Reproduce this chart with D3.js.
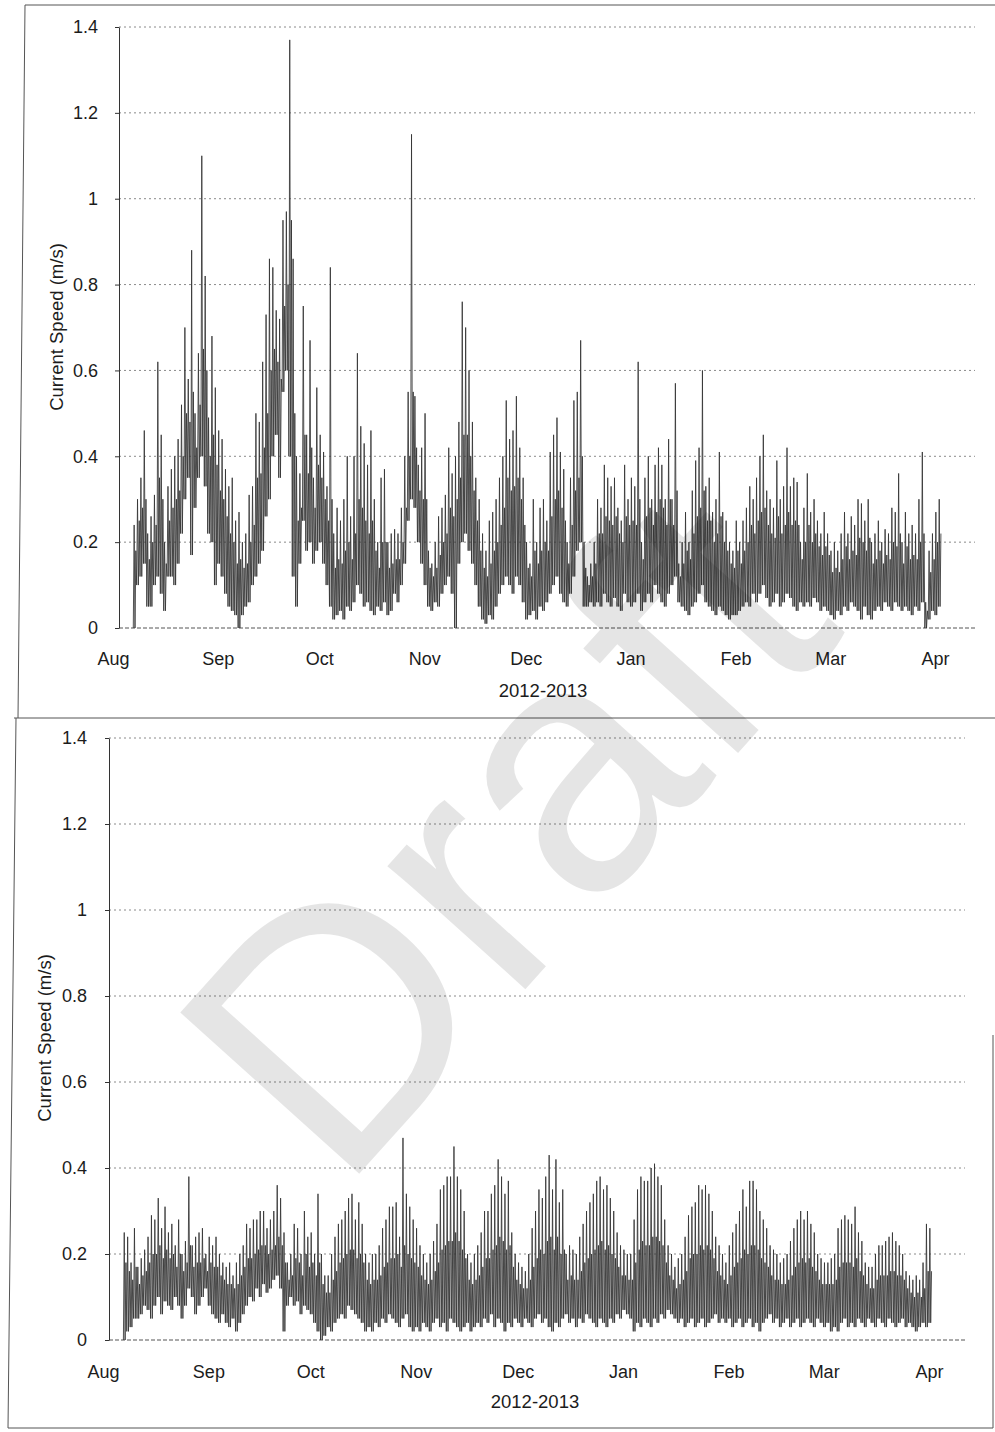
<!DOCTYPE html>
<html>
<head>
<meta charset="utf-8">
<script src="https://cdn.jsdelivr.net/npm/d3@7"></script>
<style>
  body { margin: 0; background: #fff; }
  svg text { font-family: "Liberation Sans", Arial, sans-serif; fill: #1c1c1c; }
</style>
</head>
<body>
<svg id="page" width="995" height="1432"></svg>
<script>
var months = ['Aug', 'Sep', 'Oct', 'Nov', 'Dec', 'Jan', 'Feb', 'Mar', 'Apr']
var yTicks = [0, 0.2, 0.4, 0.6, 0.8, 1, 1.2, 1.4]
var xTitle = '2012-2013'
var yTitle = 'Current Speed (m/s)'
var firstDay = new Date(2012, 7, 7) // first day with data (Aug 7)

// upper panel, daily peak speed (m/s), Aug 7 .. Apr 2
var upperMax = [
  0.24, 0.30, 0.35, 0.46, 0.22, 0.26, 0.31, 0.62, 0.45, 0.20, 0.33, 0.37, 0.40, 0.44, 0.52, 0.70, 0.58, 0.88, 0.50, 0.64, 1.10, 0.82, 0.49, 0.68, 0.56,
  0.46, 0.44, 0.37, 0.33, 0.35, 0.25, 0.27, 0.20, 0.22, 0.31, 0.33, 0.50, 0.48, 0.62, 0.73, 0.86, 0.84, 0.74, 0.72, 0.95, 0.97, 1.37, 0.86, 0.40, 0.36, 0.75, 0.45, 0.67, 0.35, 0.56,
  0.45, 0.41, 0.33, 0.84, 0.22, 0.28, 0.25, 0.30, 0.40, 0.26, 0.40, 0.64, 0.47, 0.43, 0.38, 0.46, 0.30, 0.20, 0.35, 0.37, 0.20, 0.22, 0.23, 0.22, 0.28, 0.40, 0.55, 1.15, 0.54, 0.38, 0.42,
  0.50, 0.18, 0.15, 0.20, 0.26, 0.28, 0.31, 0.42, 0.36, 0.40, 0.48, 0.76, 0.70, 0.60, 0.48, 0.35, 0.30, 0.22, 0.18, 0.25, 0.27, 0.30, 0.35, 0.40, 0.53, 0.44, 0.46, 0.54, 0.42, 0.35,
  0.20, 0.15, 0.30, 0.20, 0.28, 0.30, 0.25, 0.41, 0.45, 0.49, 0.41, 0.37, 0.20, 0.35, 0.53, 0.55, 0.67, 0.20, 0.12, 0.15, 0.20, 0.30, 0.28, 0.38, 0.35, 0.33, 0.35, 0.28, 0.25, 0.38, 0.30,
  0.35, 0.33, 0.62, 0.20, 0.35, 0.40, 0.30, 0.38, 0.42, 0.38, 0.30, 0.44, 0.30, 0.57, 0.15, 0.20, 0.27, 0.20, 0.32, 0.39, 0.42, 0.60, 0.33, 0.35, 0.27, 0.30, 0.41, 0.27, 0.25, 0.20, 0.18,
  0.25, 0.20, 0.25, 0.28, 0.33, 0.30, 0.35, 0.40, 0.45, 0.32, 0.30, 0.28, 0.39, 0.30, 0.33, 0.42, 0.33, 0.35, 0.34, 0.20, 0.28, 0.36, 0.27, 0.30, 0.25, 0.22, 0.27, 0.22,
  0.18, 0.20, 0.18, 0.22, 0.27, 0.22, 0.26, 0.24, 0.30, 0.29, 0.25, 0.30, 0.20, 0.22, 0.25, 0.20, 0.23, 0.22, 0.28, 0.27, 0.36, 0.20, 0.27, 0.22, 0.24, 0.22, 0.30, 0.41, 0.06, 0.18, 0.22,
  0.27, 0.30
]

// upper panel, top of the dense daily band (m/s)
var upperBody = [
  0.18, 0.25, 0.28, 0.30, 0.16, 0.20, 0.24, 0.35, 0.30, 0.15, 0.25, 0.28, 0.30, 0.32, 0.40, 0.50, 0.48, 0.55, 0.42, 0.52, 0.65, 0.60, 0.40, 0.45, 0.38,
  0.32, 0.30, 0.26, 0.22, 0.20, 0.15, 0.16, 0.14, 0.15, 0.20, 0.24, 0.35, 0.36, 0.42, 0.50, 0.60, 0.65, 0.62, 0.58, 0.75, 0.80, 0.95, 0.50, 0.25, 0.28, 0.45, 0.36, 0.42, 0.28, 0.38,
  0.35, 0.30, 0.25, 0.30, 0.14, 0.16, 0.15, 0.18, 0.20, 0.16, 0.22, 0.30, 0.28, 0.25, 0.22, 0.25, 0.18, 0.14, 0.20, 0.20, 0.14, 0.15, 0.16, 0.16, 0.20, 0.28, 0.40, 0.55, 0.42, 0.32, 0.30,
  0.30, 0.14, 0.12, 0.14, 0.17, 0.20, 0.22, 0.28, 0.26, 0.30, 0.35, 0.45, 0.45, 0.40, 0.32, 0.25, 0.18, 0.14, 0.12, 0.15, 0.18, 0.20, 0.24, 0.28, 0.35, 0.32, 0.33, 0.35, 0.30, 0.24,
  0.14, 0.12, 0.18, 0.15, 0.18, 0.20, 0.18, 0.26, 0.30, 0.32, 0.28, 0.25, 0.15, 0.24, 0.32, 0.35, 0.40, 0.14, 0.10, 0.12, 0.15, 0.22, 0.22, 0.26, 0.25, 0.24, 0.26, 0.22, 0.20, 0.26, 0.24,
  0.25, 0.24, 0.30, 0.16, 0.26, 0.28, 0.24, 0.27, 0.30, 0.28, 0.24, 0.30, 0.24, 0.32, 0.12, 0.15, 0.18, 0.16, 0.22, 0.26, 0.28, 0.32, 0.25, 0.25, 0.20, 0.22, 0.26, 0.20, 0.18, 0.15, 0.14,
  0.18, 0.15, 0.18, 0.20, 0.24, 0.22, 0.25, 0.27, 0.28, 0.24, 0.22, 0.21, 0.26, 0.22, 0.24, 0.27, 0.24, 0.25, 0.24, 0.16, 0.20, 0.24, 0.20, 0.22, 0.19, 0.17, 0.19, 0.17,
  0.13, 0.14, 0.13, 0.16, 0.19, 0.16, 0.18, 0.17, 0.21, 0.20, 0.18, 0.21, 0.15, 0.16, 0.18, 0.15, 0.17, 0.16, 0.20, 0.19, 0.22, 0.15, 0.19, 0.16, 0.17, 0.16, 0.20, 0.22, 0.04, 0.13, 0.16,
  0.20, 0.22
]

// upper panel, daily low speed (m/s)
var upperMin = [
  0.00, 0.10, 0.12, 0.15, 0.05, 0.05, 0.10, 0.12, 0.08, 0.04, 0.12, 0.12, 0.10, 0.15, 0.22, 0.30, 0.35, 0.17, 0.28, 0.35, 0.40, 0.33, 0.22, 0.20, 0.10,
  0.15, 0.12, 0.08, 0.05, 0.04, 0.03, 0.00, 0.03, 0.05, 0.06, 0.10, 0.12, 0.15, 0.18, 0.26, 0.30, 0.40, 0.45, 0.35, 0.55, 0.60, 0.40, 0.12, 0.05, 0.15, 0.25, 0.18, 0.20, 0.15, 0.18,
  0.20, 0.15, 0.10, 0.05, 0.02, 0.03, 0.04, 0.02, 0.05, 0.04, 0.06, 0.10, 0.08, 0.05, 0.06, 0.04, 0.03, 0.05, 0.04, 0.06, 0.03, 0.04, 0.08, 0.06, 0.10, 0.15, 0.25, 0.30, 0.28, 0.20, 0.15,
  0.10, 0.05, 0.04, 0.06, 0.05, 0.08, 0.10, 0.12, 0.08, 0.00, 0.15, 0.20, 0.22, 0.18, 0.15, 0.10, 0.05, 0.02, 0.01, 0.03, 0.02, 0.05, 0.08, 0.10, 0.12, 0.10, 0.08, 0.12, 0.10, 0.06,
  0.02, 0.03, 0.04, 0.02, 0.05, 0.04, 0.06, 0.08, 0.10, 0.12, 0.08, 0.06, 0.05, 0.08, 0.12, 0.18, 0.20, 0.05, 0.05, 0.06, 0.05, 0.06, 0.05, 0.08, 0.06, 0.05, 0.07, 0.05, 0.04, 0.08, 0.06,
  0.05, 0.06, 0.08, 0.04, 0.06, 0.08, 0.06, 0.10, 0.08, 0.06, 0.05, 0.08, 0.10, 0.12, 0.06, 0.05, 0.04, 0.03, 0.05, 0.06, 0.08, 0.10, 0.06, 0.05, 0.04, 0.03, 0.05, 0.04, 0.03, 0.02, 0.03,
  0.03, 0.04, 0.05, 0.06, 0.05, 0.08, 0.06, 0.08, 0.10, 0.07, 0.05, 0.06, 0.08, 0.05, 0.06, 0.08, 0.07, 0.05, 0.04, 0.06, 0.05, 0.06, 0.05, 0.07, 0.06, 0.04, 0.05, 0.04,
  0.03, 0.02, 0.04, 0.03, 0.05, 0.04, 0.06, 0.05, 0.04, 0.02, 0.05, 0.03, 0.02, 0.04, 0.05, 0.04, 0.06, 0.05, 0.04, 0.06, 0.05, 0.04, 0.05, 0.04, 0.03, 0.05, 0.04, 0.06, 0.00, 0.02, 0.04,
  0.03, 0.05
]

// lower panel, daily peak speed (m/s), Aug 7 .. Apr 1
var lowerMax = [
  0.25, 0.24, 0.18, 0.26, 0.17, 0.19, 0.21, 0.24, 0.29, 0.28, 0.33, 0.26, 0.31, 0.25, 0.27, 0.22, 0.28, 0.20, 0.23, 0.38, 0.22, 0.24, 0.25, 0.26, 0.20,
  0.24, 0.22, 0.24, 0.20, 0.18, 0.17, 0.18, 0.15, 0.18, 0.20, 0.22, 0.27, 0.26, 0.28, 0.28, 0.30, 0.30, 0.26, 0.28, 0.30, 0.36, 0.33, 0.25, 0.18, 0.20, 0.27, 0.26, 0.20, 0.30, 0.24,
  0.25, 0.20, 0.34, 0.20, 0.15, 0.15, 0.20, 0.24, 0.27, 0.28, 0.30, 0.33, 0.34, 0.28, 0.32, 0.27, 0.20, 0.18, 0.20, 0.20, 0.22, 0.26, 0.28, 0.31, 0.31, 0.32, 0.24, 0.47, 0.34, 0.31, 0.28,
  0.26, 0.22, 0.20, 0.18, 0.20, 0.23, 0.27, 0.35, 0.36, 0.38, 0.38, 0.45, 0.38, 0.35, 0.30, 0.20, 0.18, 0.20, 0.22, 0.25, 0.30, 0.30, 0.34, 0.36, 0.42, 0.38, 0.34, 0.37, 0.25, 0.20,
  0.18, 0.17, 0.16, 0.20, 0.26, 0.30, 0.35, 0.33, 0.38, 0.43, 0.35, 0.42, 0.32, 0.35, 0.20, 0.22, 0.21, 0.20, 0.24, 0.27, 0.30, 0.32, 0.34, 0.37, 0.38, 0.35, 0.36, 0.33, 0.30, 0.25, 0.22,
  0.21, 0.20, 0.20, 0.28, 0.35, 0.38, 0.37, 0.37, 0.40, 0.41, 0.38, 0.36, 0.28, 0.22, 0.20, 0.17, 0.19, 0.20, 0.24, 0.29, 0.31, 0.32, 0.36, 0.35, 0.36, 0.34, 0.30, 0.24, 0.22, 0.20, 0.18,
  0.22, 0.25, 0.27, 0.30, 0.35, 0.31, 0.37, 0.37, 0.35, 0.30, 0.28, 0.26, 0.22, 0.21, 0.20, 0.18, 0.19, 0.20, 0.23, 0.26, 0.28, 0.30, 0.28, 0.30, 0.27, 0.25, 0.20, 0.19,
  0.18, 0.18, 0.19, 0.20, 0.26, 0.28, 0.29, 0.28, 0.27, 0.31, 0.25, 0.23, 0.18, 0.17, 0.17, 0.20, 0.22, 0.22, 0.23, 0.24, 0.25, 0.23, 0.22, 0.20, 0.16, 0.15, 0.14, 0.15, 0.14, 0.18, 0.27,
  0.26
]

// lower panel, top of the dense daily band (m/s)
var lowerBody = [
  0.18, 0.16, 0.14, 0.17, 0.13, 0.15, 0.16, 0.18, 0.20, 0.20, 0.22, 0.19, 0.21, 0.19, 0.20, 0.17, 0.20, 0.16, 0.18, 0.22, 0.17, 0.18, 0.18, 0.19, 0.16,
  0.18, 0.17, 0.17, 0.15, 0.14, 0.13, 0.13, 0.12, 0.13, 0.15, 0.17, 0.19, 0.19, 0.20, 0.21, 0.22, 0.22, 0.20, 0.21, 0.22, 0.24, 0.22, 0.18, 0.14, 0.15, 0.19, 0.18, 0.15, 0.20, 0.17,
  0.18, 0.15, 0.18, 0.13, 0.11, 0.11, 0.14, 0.16, 0.18, 0.19, 0.20, 0.21, 0.21, 0.19, 0.20, 0.18, 0.14, 0.13, 0.14, 0.14, 0.15, 0.17, 0.18, 0.19, 0.19, 0.20, 0.17, 0.22, 0.20, 0.19, 0.18,
  0.17, 0.15, 0.14, 0.13, 0.14, 0.16, 0.18, 0.21, 0.22, 0.23, 0.23, 0.25, 0.23, 0.21, 0.19, 0.14, 0.13, 0.14, 0.15, 0.17, 0.19, 0.19, 0.21, 0.22, 0.24, 0.23, 0.21, 0.22, 0.17, 0.14,
  0.13, 0.12, 0.12, 0.14, 0.17, 0.19, 0.21, 0.20, 0.23, 0.24, 0.21, 0.24, 0.20, 0.21, 0.14, 0.15, 0.14, 0.14, 0.16, 0.18, 0.19, 0.20, 0.21, 0.22, 0.23, 0.21, 0.22, 0.20, 0.19, 0.17, 0.15,
  0.15, 0.14, 0.14, 0.18, 0.21, 0.23, 0.22, 0.22, 0.24, 0.24, 0.23, 0.22, 0.18, 0.15, 0.14, 0.12, 0.13, 0.14, 0.16, 0.19, 0.20, 0.20, 0.22, 0.21, 0.22, 0.21, 0.19, 0.16, 0.15, 0.14, 0.13,
  0.15, 0.17, 0.18, 0.19, 0.21, 0.20, 0.22, 0.22, 0.21, 0.19, 0.18, 0.17, 0.15, 0.14, 0.14, 0.13, 0.13, 0.14, 0.15, 0.17, 0.18, 0.19, 0.18, 0.19, 0.17, 0.16, 0.14, 0.13,
  0.13, 0.13, 0.13, 0.14, 0.17, 0.18, 0.18, 0.18, 0.17, 0.19, 0.16, 0.15, 0.13, 0.12, 0.12, 0.14, 0.15, 0.15, 0.15, 0.16, 0.16, 0.15, 0.15, 0.14, 0.12, 0.11, 0.10, 0.11, 0.10, 0.12, 0.16,
  0.16
]

// lower panel, daily low speed (m/s)
var lowerMin = [
  0.00, 0.02, 0.03, 0.05, 0.05, 0.06, 0.08, 0.07, 0.05, 0.08, 0.10, 0.06, 0.09, 0.08, 0.07, 0.10, 0.08, 0.05, 0.08, 0.12, 0.10, 0.06, 0.08, 0.10, 0.12,
  0.08, 0.06, 0.05, 0.04, 0.06, 0.04, 0.03, 0.05, 0.02, 0.04, 0.06, 0.08, 0.10, 0.09, 0.12, 0.10, 0.13, 0.11, 0.12, 0.14, 0.15, 0.12, 0.02, 0.08, 0.10, 0.08, 0.09, 0.06, 0.08, 0.07,
  0.06, 0.04, 0.02, 0.00, 0.01, 0.03, 0.02, 0.04, 0.05, 0.06, 0.05, 0.08, 0.07, 0.06, 0.05, 0.04, 0.02, 0.03, 0.02, 0.04, 0.03, 0.05, 0.04, 0.06, 0.05, 0.04, 0.03, 0.05, 0.06, 0.03, 0.02,
  0.03, 0.02, 0.04, 0.03, 0.02, 0.04, 0.05, 0.03, 0.04, 0.02, 0.05, 0.04, 0.03, 0.02, 0.03, 0.04, 0.02, 0.03, 0.04, 0.03, 0.05, 0.04, 0.06, 0.03, 0.05, 0.04, 0.02, 0.04, 0.03, 0.05,
  0.04, 0.03, 0.05, 0.04, 0.03, 0.05, 0.06, 0.04, 0.05, 0.03, 0.02, 0.04, 0.03, 0.05, 0.06, 0.04, 0.05, 0.03, 0.05, 0.04, 0.06, 0.05, 0.04, 0.03, 0.05, 0.04, 0.03, 0.05, 0.04, 0.06, 0.05,
  0.07, 0.06, 0.05, 0.02, 0.04, 0.03, 0.05, 0.04, 0.03, 0.05, 0.04, 0.06, 0.05, 0.07, 0.06, 0.05, 0.04, 0.05, 0.03, 0.04, 0.05, 0.03, 0.04, 0.05, 0.03, 0.04, 0.05, 0.06, 0.04, 0.05, 0.04,
  0.05, 0.03, 0.04, 0.05, 0.03, 0.04, 0.05, 0.03, 0.04, 0.02, 0.04, 0.05, 0.06, 0.04, 0.05, 0.03, 0.04, 0.05, 0.03, 0.04, 0.05, 0.03, 0.04, 0.05, 0.04, 0.03, 0.05, 0.04,
  0.03, 0.04, 0.02, 0.03, 0.02, 0.04, 0.05, 0.03, 0.04, 0.03, 0.05, 0.04, 0.03, 0.05, 0.04, 0.03, 0.05, 0.04, 0.03, 0.05, 0.04, 0.03, 0.04, 0.05, 0.03, 0.04, 0.03, 0.02, 0.03, 0.04, 0.03,
  0.04
]

var svg = d3.select('#page')

// page frames of the scanned sheet
var frames = [
  [[25, 5], [995, 5]],
  [[25, 5], [18, 718]],
  [[14, 718], [995, 718]],
  [[16, 718], [8, 1428]],
  [[8, 1428], [993, 1428]],
  [[993, 1035], [993, 1428]]
]
svg.append('g').selectAll('path')
  .data(frames)
  .enter().append('path')
  .attr('d', d3.line())
  .style('fill', 'none')
  .style('stroke', '#555')
  .style('stroke-width', 1)

// two tides a day: low, peak, low, band top
function series (maxs, body, mins) {
  var pts = []
  maxs.forEach(function (v, i) {
    pts.push({ t: d3.timeHour.offset(firstDay, i * 24), v: mins[i] })
    pts.push({ t: d3.timeHour.offset(firstDay, i * 24 + 6), v: v })
    pts.push({ t: d3.timeHour.offset(firstDay, i * 24 + 12), v: mins[i] })
    pts.push({ t: d3.timeHour.offset(firstDay, i * 24 + 18), v: body[i] })
  })
  return pts
}

function panel (p, maxs, body, mins) {
  var x = d3.scaleTime()
    .domain([new Date(2012, 7, 1), new Date(2013, 3, 1)])
    .range([p.x0, p.x1])
  var y = d3.scaleLinear()
    .domain([0, 1.4])
    .range([p.y0, p.y1])

  var g = svg.append('g')

  // dotted gridlines
  g.selectAll('.grid')
    .data(yTicks.slice(1))
    .enter().append('line')
    .attr('class', 'grid')
    .attr('x1', p.axisX)
    .attr('x2', p.gridEnd)
    .attr('y1', function (d) { return y(d) })
    .attr('y2', function (d) { return y(d) })
    .style('stroke', '#8a8a8a')
    .style('stroke-width', 1)
    .style('stroke-dasharray', '2,3')

  // zero line
  g.append('line')
    .attr('x1', p.axisX)
    .attr('x2', p.gridEnd)
    .attr('y1', y(0))
    .attr('y2', y(0))
    .style('stroke', '#555')
    .style('stroke-dasharray', '4,2')

  var line = d3.line()
    .x(function (d) { return x(d.t) })
    .y(function (d) { return y(d.v) })

  g.append('path')
    .datum(series(maxs, body, mins))
    .attr('d', line)
    .style('fill', 'none')
    .style('stroke', '#333')
    .style('stroke-width', 0.85)
    .style('stroke-linejoin', 'bevel')

  var yAxis = g.append('g')
    .attr('transform', 'translate(' + p.axisX + ',0)')
    .call(d3.axisLeft(y)
      .tickValues(yTicks)
      .tickFormat(String)
      .tickSize(4)
      .tickSizeOuter(0)
      .tickPadding(p.yPad))
  yAxis.selectAll('path, line').style('stroke', '#333')

  var xAxis = g.append('g')
    .attr('transform', 'translate(0,' + p.y0 + ')')
    .call(d3.axisBottom(x)
      .tickValues(d3.timeMonth.range(new Date(2012, 7, 1), new Date(2013, 3, 2)))
      .tickFormat(function (d, i) { return months[i] })
      .tickSize(0)
      .tickPadding(p.xPad))
  xAxis.select('.domain').remove()

  g.selectAll('.tick text')
    .attr('font-family', null)
    .style('font-size', '18px')
    .style('fill', '#1c1c1c')

  g.append('text')
    .attr('transform', 'translate(' + p.titleX + ',' + p.titleY + ') rotate(-90)')
    .style('text-anchor', 'middle')
    .style('font-size', '18.5px')
    .text(yTitle)

  g.append('text')
    .attr('x', p.xTitleX)
    .attr('y', p.xTitleY)
    .style('text-anchor', 'middle')
    .style('font-size', '18.5px')
    .text(xTitle)
}

panel({ x0: 113, x1: 935, y0: 628, y1: 27, axisX: 119, gridEnd: 975, yPad: 17, xPad: 24,
  titleX: 63, titleY: 327, xTitleX: 543, xTitleY: 697 }, upperMax, upperBody, upperMin)

panel({ x0: 103, x1: 929, y0: 1340, y1: 738, axisX: 109, gridEnd: 965, yPad: 18, xPad: 25,
  titleX: 51, titleY: 1038, xTitleX: 535, xTitleY: 1408 }, lowerMax, lowerBody, lowerMin)

// watermark
svg.append('text')
  .attr('transform', 'translate(340,1195) rotate(-48)')
  .style('font-size', '350px')
  .style('fill', '#000')
  .style('fill-opacity', 0.1)
  .text('Draft')
</script>
</body>
</html>
